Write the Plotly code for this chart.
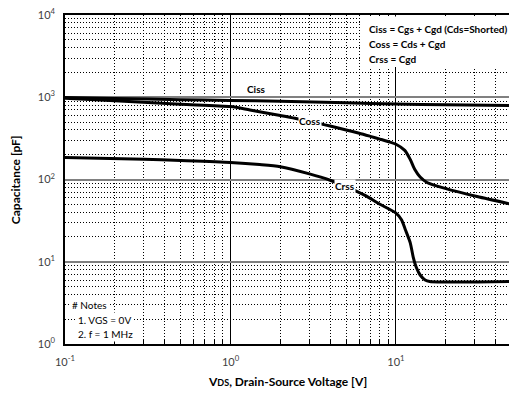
import plotly.graph_objects as go

# Typical capacitance vs. drain-source voltage
ciss_v = [0.1, 0.2, 0.5, 1, 2, 5, 10, 20, 50]
ciss_c = [990, 965, 935, 915, 895, 855, 825, 810, 795]

coss_v = [0.1, 0.2, 0.5, 1, 1.31, 2, 2.45, 3.5, 4, 5, 6, 7, 8, 9.2, 10, 11.3, 12.2, 13.0, 14.0, 15.4, 19.8, 30.9, 50]
coss_c = [973, 905, 822, 770, 700, 600, 555, 475, 447, 400, 365, 335, 310, 285, 268, 226, 175, 132, 107, 92, 78, 62, 50]

crss_v = [0.1, 0.3, 0.5, 1, 1.5, 2, 3, 4, 5, 6.5, 8, 10, 10.8, 11.4, 12.2, 12.7, 13.3, 14.0, 15.0, 16.0, 50]
crss_c = [185, 176, 170, 161, 152, 143, 117, 98, 82, 64, 50, 39, 32.5, 24.5, 17, 11.5, 8.45, 6.9, 6.0, 5.75, 5.75]

x_ticks = [0.1, 1, 10]
x_ticktext = ["10<sup>-1</sup>", "10<sup>0</sup>", "10<sup>1</sup>"]
y_ticks = [1, 10, 100, 1000, 10000]
y_ticktext = ["10<sup>0</sup>", "10<sup>1</sup>", "10<sup>2</sup>", "10<sup>3</sup>", "10<sup>4</sup>"]

x_minor = [0.2, 0.3, 0.4, 0.5, 0.6, 0.7, 0.8, 0.9, 2, 3, 4, 5, 6, 7, 8, 9, 20, 30, 40]
y_minor = [m * d for d in (1, 10, 100, 1000) for m in range(2, 10)]

FONT = "Lato"
line_style = dict(color="black", width=3)

fig = go.Figure()
for name, v, c in (("Ciss", ciss_v, ciss_c), ("Coss", coss_v, coss_c), ("Crss", crss_v, crss_c)):
    fig.add_trace(go.Scatter(x=v, y=c, mode="lines", name=name,
                             line=dict(shape="spline", smoothing=0.7, **line_style),
                             showlegend=False, hoverinfo="skip"))

dot = "1px,2px"
fig.update_xaxes(
    type="log", range=[-1, 1.683],
    tickvals=x_ticks, ticktext=x_ticktext,
    tickfont=dict(family=FONT, size=11, color="#404040"),
    showline=True, linecolor="black", linewidth=1.5, mirror=True,
    showgrid=True, gridcolor="black", gridwidth=1,
    ticks="inside", ticklen=5, tickcolor="black", ticklabelstandoff=7,
    zeroline=False,
    minor=dict(tickvals=x_minor, showgrid=True, gridcolor="black", gridwidth=1,
               griddash=dot, ticks="inside", ticklen=4, tickcolor="black"),
)
fig.update_yaxes(
    type="log", range=[0, 4],
    tickvals=y_ticks, ticktext=y_ticktext,
    tickfont=dict(family=FONT, size=11, color="#404040"),
    showline=True, linecolor="black", linewidth=1.5, mirror=False,
    showgrid=True, gridcolor="#808080", gridwidth=2,
    ticks="", ticklabelstandoff=6,
    zeroline=False,
    minor=dict(tickvals=y_minor, showgrid=True, gridcolor="black", gridwidth=1,
               griddash=dot, ticks=""),
)

annotations = [
    dict(text="Capacitance [pF]", xref="paper", yref="paper", x=-0.110, y=0.4985,
         xanchor="center", yanchor="middle",
         textangle=-90, showarrow=False, font=dict(family=FONT, size=12, color="black", weight="bold")),
    dict(text="V<span style='font-size:9px'>DS</span>, Drain-Source Voltage [V]", xref="paper", yref="paper",
         x=0.5, y=-0.1155, xanchor="center", yanchor="middle",
         showarrow=False, font=dict(family=FONT, size=12, color="black", weight="bold")),
    # curve labels (log-axis coordinates are given as log10 values)
    dict(text="Ciss", x=0.160, y=3.098, showarrow=False, xanchor="center", yanchor="middle",
         font=dict(family=FONT, size=10, color="black", weight="bold")),
    dict(text="Coss", x=0.480, y=2.707, showarrow=False, bgcolor="white", borderpad=0,
         xanchor="center", yanchor="middle",
         font=dict(family=FONT, size=10, color="black", weight="bold")),
    dict(text="Crss", x=0.692, y=1.915, showarrow=False, bgcolor="white", borderpad=0,
         xanchor="center", yanchor="middle",
         font=dict(family=FONT, size=10, color="black", weight="bold")),
]

# Definitions box
defs = ["Ciss = Cgs + Cgd (Cds=Shorted)", "Coss = Cds + Cgd", "Crss = Cgd"]
for i, t in enumerate(defs):
    annotations.append(dict(text=t, xref="paper", yref="paper", x=(367 - 65) / 444, y=(344 - 29 - 15 * i) / 329,
                            xanchor="left", yanchor="middle", showarrow=False,
                            font=dict(family=FONT, size=10, color="black", weight="bold")))

# Test conditions
notes = [("# Notes", 70), ("1. VGS = 0V", 76), ("2. f = 1 MHz", 76)]
for i, (t, px) in enumerate(notes):
    annotations.append(dict(text=t, xref="paper", yref="paper", x=(px - 65) / 444, y=(344 - 305 - 14.5 * i) / 329,
                            xanchor="left", yanchor="middle", showarrow=False, bgcolor="white", borderpad=1,
                            font=dict(family=FONT, size=10, color="black")))

fig.add_shape(type="rect", xref="paper", yref="paper",
              x0=(361 - 65) / 444, x1=1.0, y0=(344 - 67) / 329, y1=(344 - 16.5) / 329,
              fillcolor="white", line=dict(width=0), layer="above")

fig.update_layout(
    width=509, height=395,
    margin=dict(l=65, r=0, t=15, b=51),
    plot_bgcolor="white", paper_bgcolor="white",
    annotations=annotations,
)

fig.write_html("out.html")
